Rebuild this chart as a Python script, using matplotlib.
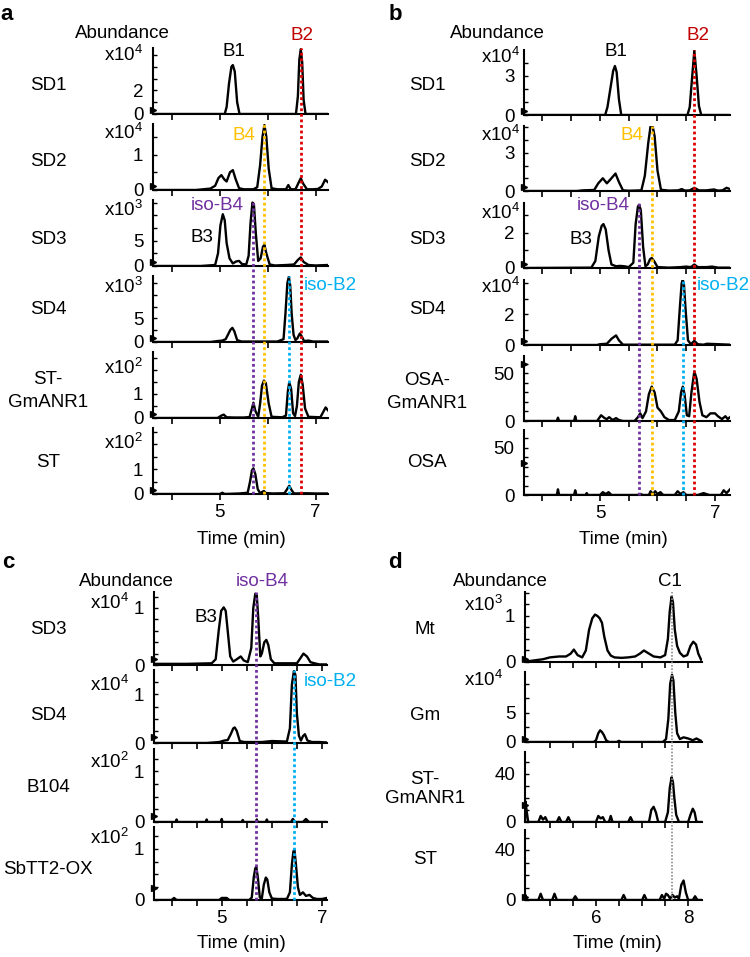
import matplotlib
matplotlib.use("Agg")
import matplotlib.pyplot as plt
from matplotlib.lines import Line2D
from matplotlib import transforms

plt.rcParams['font.family'] = ['Liberation Sans', 'DejaVu Sans']
plt.rcParams['mathtext.fontset'] = 'custom'
plt.rcParams['mathtext.rm'] = 'Liberation Sans'
plt.rcParams['mathtext.it'] = 'Liberation Sans:italic'

# =========================================================
# DATA  (time in min, abundance in the row's own units)
# =========================================================

# ---- panel a ----
A_SD1_T = [3.60, 5.10, 5.14, 5.19, 5.24, 5.27, 5.31, 5.36, 5.41, 6.59, 6.63, 6.66, 6.69, 6.72, 6.75, 6.79, 7.26]
A_SD1_V = [0.00, 0.00, 0.60, 2.60, 4.00, 4.15, 3.60, 1.00, 0.00, 0.00, 1.50, 4.60, 5.50, 4.40, 1.20, 0.00, 0.00]

A_SD2_T = [3.60, 4.50, 4.80, 4.90, 4.97, 5.03, 5.09, 5.14, 5.21, 5.27, 5.33, 5.40, 5.50, 5.70, 5.78, 5.84, 5.89,
           5.93, 5.97, 6.02, 6.08, 6.20, 6.38, 6.43, 6.48, 6.58, 6.65, 6.69, 6.74, 6.82, 6.95, 7.05, 7.13, 7.20, 7.26]
A_SD2_V = [0.00, 0.00, 0.04, 0.12, 0.34, 0.42, 0.30, 0.24, 0.50, 0.56, 0.30, 0.05, 0.02, 0.02, 0.08, 0.70, 1.50,
           1.83, 1.50, 0.60, 0.05, 0.02, 0.02, 0.14, 0.02, 0.02, 0.22, 0.33, 0.18, 0.02, 0.02, 0.03, 0.10, 0.29, 0.22]

A_SD3_T = [3.60, 4.60, 4.90, 4.96, 5.01, 5.06, 5.10, 5.14, 5.20, 5.27, 5.34, 5.40, 5.46, 5.55, 5.60, 5.64, 5.68,
           5.71, 5.75, 5.80, 5.85, 5.90, 5.93, 5.97, 6.04, 6.15, 6.40, 6.55, 6.63, 6.69, 6.75, 6.85, 7.00, 7.26]
A_SD3_V = [0.0, 0.0, 0.2, 2.5, 8.0, 10.2, 9.0, 4.5, 1.5, 0.5, 0.9, 1.0, 0.4, 0.3, 2.0, 8.5, 12.5,
           12.2, 6.5, 1.0, 1.5, 3.8, 4.2, 2.5, 0.3, 0.1, 0.2, 0.3, 1.2, 1.7, 0.8, 0.2, 0.1, 0.2]

A_SD4_T = [3.60, 4.80, 4.95, 5.05, 5.12, 5.17, 5.22, 5.26, 5.30, 5.36, 5.45, 6.20, 6.33, 6.37, 6.41, 6.44,
           6.47, 6.50, 6.54, 6.58, 6.62, 6.67, 6.71, 6.76, 6.85, 6.95, 7.05, 7.26]
A_SD4_V = [0.0, 0.0, 0.2, 0.3, 0.6, 1.6, 2.6, 3.0, 2.3, 0.4, 0.1, 0.1, 0.6, 6.0, 12.5, 13.8,
           12.0, 6.0, 1.5, 0.4, 0.8, 1.8, 1.2, 0.2, 0.3, 0.1, 0.1, 0.1]

A_STG_T = [3.60, 4.95, 5.03, 5.08, 5.14, 5.30, 5.50, 5.62, 5.67, 5.70, 5.74, 5.80, 5.84, 5.88, 5.92, 5.96, 6.02,
           6.08, 6.30, 6.38, 6.42, 6.45, 6.49, 6.53, 6.57, 6.61, 6.65, 6.69, 6.73, 6.78, 6.85, 7.10, 7.16, 7.21, 7.26]
A_STG_V = [0.0, 0.0, 0.10, 0.14, 0.03, 0.02, 0.02, 0.04, 0.40, 0.64, 0.30, 0.05, 0.60, 1.35, 1.56, 1.45, 0.60,
           0.05, 0.03, 0.10, 1.10, 1.50, 1.20, 0.20, 0.08, 0.50, 1.50, 1.80, 1.40, 0.40, 0.05, 0.03, 0.25, 0.44, 0.32]

A_ST_T = [3.60, 5.00, 5.05, 5.10, 5.40, 5.58, 5.63, 5.67, 5.70, 5.74, 5.79, 5.84, 5.88, 5.92, 5.96, 6.10,
          6.35, 6.40, 6.45, 6.50, 6.55, 6.80, 7.00, 7.26]
A_ST_V = [0.0, 0.0, 0.05, 0.0, 0.02, 0.05, 0.50, 0.95, 1.03, 0.80, 0.20, 0.03, 0.08, 0.12, 0.04, 0.02,
          0.03, 0.18, 0.33, 0.15, 0.02, 0.03, 0.02, 0.02]

# ---- panel b ----
B_SD1_T = [3.68, 5.09, 5.13, 5.18, 5.23, 5.26, 5.29, 5.33, 5.37, 6.52, 6.56, 6.60, 6.64, 6.68, 6.72, 6.76, 7.26]
B_SD1_V = [0, 0, 0.6, 2.0, 3.4, 3.77, 3.3, 1.2, 0, 0, 0.6, 2.8, 4.95, 3.0, 0.7, 0, 0]

B_SD2_T = [3.68, 4.60, 4.70, 4.90, 4.97, 5.05, 5.12, 5.18, 5.27, 5.33, 5.40, 5.50, 5.72, 5.78, 5.84, 5.88, 5.91,
           5.95, 6.00, 6.06, 6.20, 6.36, 6.42, 6.48, 6.56, 6.64, 6.72, 6.85, 6.98, 7.05, 7.13, 7.20, 7.26]
B_SD2_V = [0, 0, 0.05, 0.08, 0.60, 1.00, 0.60, 0.90, 1.37, 0.70, 0.05, 0.02, 0.05, 1.20, 3.80, 5.10, 5.20,
           4.30, 1.60, 0.10, 0.03, 0.05, 0.15, 0.03, 0.05, 0.25, 0.05, 0.05, 0.12, 0.03, 0.05, 0.25, 0.15]

B_SD3_T = [3.68, 4.85, 4.92, 4.98, 5.03, 5.06, 5.10, 5.15, 5.20, 5.28, 5.35, 5.42, 5.50, 5.58, 5.62, 5.66, 5.68,
           5.71, 5.75, 5.79, 5.83, 5.87, 5.90, 5.94, 6.00, 6.20, 6.40, 6.50, 6.58, 6.64, 6.70, 6.85, 6.95, 7.05, 7.26]
B_SD3_V = [0, 0.02, 0.4, 1.8, 2.4, 2.5, 2.2, 1.0, 0.2, 0.1, 0.12, 0.10, 0.05, 0.3, 2.5, 3.5, 3.6,
           3.3, 1.2, 0.1, 0.2, 0.5, 0.57, 0.4, 0.05, 0.02, 0.05, 0.08, 0.05, 0.20, 0.05, 0.05, 0.08, 0.02, 0.02]

B_SD4_T = [3.68, 4.95, 5.00, 5.12, 5.20, 5.28, 5.33, 5.40, 6.30, 6.35, 6.39, 6.42, 6.44, 6.46, 6.49, 6.53,
           6.58, 6.64, 6.70, 6.80, 6.86, 7.26]
B_SD4_V = [0, 0, 0.05, 0.08, 0.40, 0.62, 0.30, 0.02, 0.02, 0.30, 2.50, 4.00, 4.20, 3.90, 2.20, 0.30,
           0.05, 0.27, 0.05, 0.02, 0.08, 0.02]

B_OSAG_T = [3.68, 4.25, 4.27, 4.29, 4.50, 4.55, 4.57, 4.59, 4.95, 5.02, 5.08, 5.12, 5.16, 5.22, 5.28, 5.33,
            5.40, 5.60, 5.66, 5.70, 5.74, 5.80, 5.85, 5.90, 5.95, 6.00, 6.06, 6.12, 6.20, 6.30, 6.37, 6.41,
            6.44, 6.47, 6.51, 6.55, 6.59, 6.64, 6.68, 6.73, 6.78, 6.85, 6.92, 7.00, 7.05, 7.12, 7.18, 7.22, 7.26]
B_OSAG_V = [0, 0, 3.5, 0, 0, 0, 5, 0, 0, 6, 3, 2, 4, 1, 3, 1,
            0, 0, 4, 8, 3, 10, 28, 36, 30, 14, 10, 4, 1, 1, 10, 30,
            36, 28, 6, 5, 30, 52, 44, 20, 6, 4, 8, 8, 5, 2, 5, 2, 4]

B_OSA_T = [3.68, 4.25, 4.27, 4.29, 4.55, 4.57, 4.59, 4.75, 4.77, 4.79, 5.00, 5.05, 5.10, 5.15, 5.20, 5.65,
           5.70, 5.75, 5.85, 5.88, 5.92, 5.96, 6.00, 6.05, 6.10, 6.30, 6.35, 6.40, 6.45, 6.50, 6.70, 6.80,
           6.90, 7.10, 7.15, 7.20, 7.26]
B_OSA_V = [0, 0, 6, 0, 0, 5, 0, 0, 2, 0, 0, 3, 1, 3, 0, 0,
           1, 0, 0, 4, 1, 4, 1, 3, 0, 0, 4, 1, 3, 0, 0, 2,
           0, 0, 5, 2, 6]

# ---- panel c ----
C_SD3_T = [3.65, 4.30, 4.80, 4.88, 4.94, 4.99, 5.04, 5.08, 5.12, 5.17, 5.23, 5.30, 5.38, 5.44, 5.52, 5.59,
           5.63, 5.67, 5.70, 5.73, 5.77, 5.80, 5.85, 5.89, 5.93, 5.98, 6.05, 6.20, 6.40, 6.50, 6.57, 6.63,
           6.70, 6.77, 6.85, 6.95, 7.10]
C_SD3_V = [0.02, 0.02, 0.03, 0.10, 0.60, 0.95, 1.01, 0.95, 0.60, 0.15, 0.06, 0.10, 0.15, 0.08, 0.05, 0.30,
           1.00, 1.25, 1.22, 0.80, 0.15, 0.20, 0.40, 0.44, 0.35, 0.10, 0.03, 0.03, 0.03, 0.03, 0.12, 0.20,
           0.15, 0.05, 0.03, 0.01, 0.01]

C_SD4_T = [3.65, 4.70, 4.95, 5.05, 5.12, 5.18, 5.23, 5.26, 5.30, 5.36, 5.45, 5.80, 6.00, 6.30, 6.36, 6.40,
           6.44, 6.47, 6.50, 6.54, 6.58, 6.62, 6.66, 6.71, 6.80, 6.95, 7.10]
C_SD4_V = [0, 0, 0.02, 0.05, 0.06, 0.18, 0.30, 0.32, 0.25, 0.04, 0.02, 0.02, 0.04, 0.03, 0.30, 1.20,
           1.48, 1.40, 0.60, 0.15, 0.05, 0.14, 0.18, 0.05, 0.02, 0.02, 0.01]

C_B104_T = [3.65, 4.08, 4.10, 4.12, 4.68, 4.70, 4.72, 4.98, 5.00, 5.02, 5.40, 5.42, 5.44, 5.68, 5.70, 5.72,
            5.88, 5.90, 5.92, 6.38, 6.42, 6.46, 6.62, 6.68, 6.74, 7.10]
C_B104_V = [0, 0, 0.05, 0, 0, 0.05, 0, 0, 0.06, 0, 0, 0.04, 0, 0, 0.05, 0,
            0, 0.05, 0, 0, 0.06, 0, 0, 0.06, 0, 0]

C_OX_T = [3.65, 4.00, 4.05, 4.10, 4.95, 5.00, 5.10, 5.15, 5.55, 5.60, 5.64, 5.67, 5.69, 5.72, 5.76, 5.80,
          5.84, 5.88, 5.91, 5.95, 6.00, 6.10, 6.30, 6.36, 6.40, 6.43, 6.45, 6.48, 6.52, 6.56, 6.62, 6.68,
          6.75, 6.82, 6.90, 7.00, 7.10]
C_OX_V = [0, 0, 0.04, 0, 0, 0.04, 0.04, 0, 0.0, 0.05, 0.45, 0.62, 0.65, 0.45, 0.05, 0.03,
          0.30, 0.44, 0.40, 0.15, 0.03, 0.02, 0.02, 0.15, 0.70, 0.95, 0.99, 0.70, 0.25, 0.10, 0.15, 0.08,
          0.10, 0.04, 0.02, 0.02, 0.04]

# ---- panel d ----
D_MT_T = [4.46, 4.55, 4.70, 4.85, 5.00, 5.20, 5.35, 5.45, 5.52, 5.60, 5.70, 5.78, 5.85, 5.92, 5.98, 6.03,
          6.08, 6.13, 6.18, 6.25, 6.32, 6.40, 6.55, 6.70, 6.85, 6.95, 7.04, 7.12, 7.25, 7.40, 7.50, 7.56,
          7.60, 7.64, 7.67, 7.71, 7.76, 7.82, 7.90, 7.98, 8.05, 8.11, 8.17, 8.22, 8.28]
D_MT_V = [0.02, 0.02, 0.04, 0.06, 0.10, 0.12, 0.12, 0.18, 0.27, 0.15, 0.10, 0.25, 0.70, 0.95, 1.03, 1.00,
          0.95, 0.85, 0.55, 0.25, 0.14, 0.10, 0.09, 0.10, 0.12, 0.18, 0.25, 0.20, 0.12, 0.10, 0.15, 0.50,
          1.10, 1.42, 1.30, 0.70, 0.35, 0.20, 0.12, 0.15, 0.35, 0.44, 0.38, 0.18, 0.05]

D_GM_T = [4.46, 5.95, 6.00, 6.05, 6.09, 6.13, 6.17, 6.22, 6.28, 6.45, 6.50, 6.55, 7.45, 7.52, 7.57, 7.61,
          7.65, 7.68, 7.72, 7.76, 7.82, 7.90, 8.00, 8.10, 8.18, 8.25, 8.28]
D_GM_V = [0, 0, 0.3, 1.5, 2.0, 1.7, 1.2, 0.3, 0, 0, 0.2, 0, 0, 0.5, 4.0, 10.0,
          11.5, 10.5, 5.0, 1.5, 0.5, 0.8, 0.6, 0.3, 0.6, 0.3, 0.2]

D_STG_T = [4.46, 4.47, 4.50, 4.53, 4.75, 4.80, 4.85, 4.90, 4.95, 5.15, 5.20, 5.25, 5.35, 5.40, 5.45, 6.00,
           6.05, 6.10, 6.15, 6.20, 6.28, 6.32, 6.36, 6.70, 6.75, 6.80, 7.15, 7.20, 7.25, 7.30, 7.35, 7.50,
           7.56, 7.60, 7.64, 7.67, 7.70, 7.74, 7.80, 8.00, 8.05, 8.10, 8.14, 8.18, 8.28]
D_STG_V = [0, 17, 8, 0, 0, 5, 2, 4, 0, 0, 4, 0, 0, 4, 0, 0,
           5, 3, 4, 0, 0, 5, 0, 0, 4, 0, 0, 10, 12.6, 8, 0, 0,
           8, 28, 37, 33, 20, 6, 0, 0, 6, 11, 8, 0, 0]

D_ST_T = [4.46, 4.47, 4.50, 4.75, 4.80, 4.85, 5.05, 5.10, 5.15, 5.50, 5.55, 5.60, 6.55, 6.60, 6.65, 7.00,
          7.05, 7.10, 7.38, 7.43, 7.48, 7.52, 7.56, 7.61, 7.66, 7.71, 7.76, 7.80, 7.85, 7.90, 7.95, 8.00,
          8.10, 8.15, 8.20, 8.28]
D_ST_V = [0, 4, 0, 0, 5, 0, 0, 5, 0, 0, 3, 0, 0, 4, 0, 0,
          4, 0, 0, 4, 1, 5, 4, 1, 4, 2, 3, 1, 12, 15.6, 6, 0,
          0, 3, 0, 0]

# peak retention times marked with dotted lines
A_MARKS = [6.69, 5.93, 5.70, 6.45]
B_MARKS = [6.64, 5.90, 5.68, 6.44]
C_MARKS = [5.69, 6.45]
D_MARKS = [7.65]

RED = '#dd0000'
GOLD = '#ffc000'
PURPLE = '#7030a0'
CYAN = '#00b0f0'

W, H = 750, 957
FS = 13.5

fig = plt.figure(figsize=(7.5, 9.57), dpi=100)


def fx(x):
    return x / W


def fy(y):
    return 1 - y / H


def mult_text(p):
    return "x10$^{\\mathregular{%s}}$" % p


# =========================================================
# ONE PANEL OF STACKED CHROMATOGRAMS
# =========================================================

def draw_panel(rows, left, right, bases, height, xlim, xticks, xlabels,
               name_x, mult_x, linespacing):

    axes = []

    for i, row in enumerate(rows):
        t, v, top, yt, ylab, mult, mult_y, name, name_y, tri = row

        ax = fig.add_axes([fx(left), fy(bases[i]), (right - left) / W, height / H])
        ax.patch.set_alpha(0)

        ax.plot(t, v, color='black', lw=1.7, solid_joinstyle='round')

        ax.set_xlim(*xlim)
        ax.set_ylim(0, top)

        for s in ['top', 'right']:
            ax.spines[s].set_visible(False)
        for s in ['left', 'bottom']:
            ax.spines[s].set_linewidth(1.5)

        ax.set_yticks(yt)
        ax.set_yticklabels(ylab, fontsize=FS)
        ax.tick_params(axis='y', direction='in', length=3, width=1, pad=7)

        ax.set_xticks(xticks)
        ax.tick_params(axis='x', direction='out', length=4, width=1.2, pad=3)
        if i == len(rows) - 1:
            ax.set_xticklabels(xlabels, fontsize=FS)
        else:
            ax.tick_params(axis='x', labelbottom=False)

        # small instrument arrow on the left spine
        tr = transforms.blended_transform_factory(ax.transAxes, ax.transAxes)
        ax.plot([0.0], [tri], marker='>', ms=4, color='black',
                transform=tr, clip_on=False)

        if mult is not None:
            fig.text(fx(mult_x), fy(mult_y), mult_text(mult), fontsize=FS,
                     ha='right', va='center')

        fig.text(fx(name_x), fy(name_y), name, fontsize=FS, ha='center',
                 va='center', linespacing=linespacing)

        axes.append(ax)

    return axes


def mark_line(axes, bases, height, t, start_row, color, lw=2.0):
    ax = axes[-1]
    tr = transforms.blended_transform_factory(ax.transData, fig.transFigure)
    y0 = fy(bases[-1])
    y1 = fy(bases[start_row] - height)
    line = Line2D([t, t], [y0, y1], transform=tr, color=color, lw=lw,
                  linestyle=(0, (1, 1)), zorder=5)
    fig.lines.append(line)


# =========================================================
# PANEL A
# =========================================================

a_bases = [114, 190, 266, 342, 418, 494]
a_rows = [
    (A_SD1_T, A_SD1_V, 5.6, [0, 1, 2, 3, 4, 5], ['0', '', '2', '', '', ''], '4', 55, 'SD1', 85, 0.06),
    (A_SD2_T, A_SD2_V, 1.86, [0, 0.5, 1, 1.5], ['0', '', '1', ''], '4', 133, 'SD2', 162, 0.06),
    (A_SD3_T, A_SD3_V, 13.0, [0, 2.5, 5, 7.5, 10, 12.5], ['0', '', '5', '', '', ''], '3', 210, 'SD3', 240, 0.06),
    (A_SD4_T, A_SD4_V, 14.0, [0, 2.5, 5, 7.5, 10, 12.5], ['0', '', '5', '', '', ''], '3', 287, 'SD4', 310, 0.06),
    (A_STG_T, A_STG_V, 2.75, [0, 0.5, 1, 1.5, 2, 2.5], ['0', '', '1', '', '', ''], '2', 368, 'ST-\nGmANR1', 391, 0.06),
    (A_ST_T, A_ST_V, 2.65, [0, 0.5, 1, 1.5, 2, 2.5], ['0', '', '1', '', '', ''], '2', 443, 'ST', 462, 0.06),
]
a_axes = draw_panel(a_rows, 153, 328, a_bases, 66, (3.60, 7.26), [4, 5, 6, 7],
                    ['', '5', '', '7'], 48, 143, 1.5)

for t, start, c in zip(A_MARKS, [0, 1, 2, 3], [RED, GOLD, PURPLE, CYAN]):
    mark_line(a_axes, a_bases, 66, t, start, c)

# =========================================================
# PANEL B
# =========================================================

b_bases = [115, 191, 268, 345, 421, 495]
b_rows = [
    (B_SD1_T, B_SD1_V, 5.0, [0, 1, 2, 3, 4], ['0', '', '', '3', ''], '4', 57, 'SD1', 85, 0.06),
    (B_SD2_T, B_SD2_V, 5.1, [0, 1, 2, 3, 4, 5], ['0', '', '', '3', '', ''], '4', 135, 'SD2', 162, 0.06),
    (B_SD3_T, B_SD3_V, 3.7, [0, 1, 2, 3], ['0', '', '2', ''], '4', 213, 'SD3', 240, 0.06),
    (B_SD4_T, B_SD4_V, 4.2, [0, 1, 2, 3, 4], ['0', '', '2', '', ''], '4', 287, 'SD4', 309, 0.06),
    (B_OSAG_T, B_OSAG_V, 68, [0, 10, 20, 30, 40, 50, 60], ['0', '', '', '', '', '50', ''], None, 0, 'OSA-\nGmANR1', 392, 0.88),
    (B_OSA_T, B_OSA_V, 69, [0, 10, 20, 30, 40, 50, 60], ['0', '', '', '', '', '50', ''], None, 0, 'OSA', 462, 0.5),
]
b_axes = draw_panel(b_rows, 524, 730, b_bases, 65, (3.68, 7.26),
                    [4, 4.5, 5, 5.5, 6, 6.5, 7], ['', '', '5', '', '', '', '7'], 427, 520, 1.5)

for t, start, c in zip(B_MARKS, [0, 1, 2, 3], [RED, GOLD, PURPLE, CYAN]):
    mark_line(b_axes, b_bases, 65, t, start, c)

# =========================================================
# PANEL C
# =========================================================

c_bases = [665, 743, 822, 900]
c_rows = [
    (C_SD3_T, C_SD3_V, 1.28, [0, 0.2, 0.4, 0.6, 0.8, 1.0, 1.2], ['0', '', '', '', '', '1', ''], '4', 603, 'SD3', 630, 0.08),
    (C_SD4_T, C_SD4_V, 1.5, [0, 0.25, 0.5, 0.75, 1.0, 1.25], ['0', '', '', '', '1', ''], '4', 685, 'SD4', 715, 0.08),
    (C_B104_T, C_B104_V, 1.44, [0, 0.25, 0.5, 0.75, 1.0, 1.25], ['0', '', '', '', '1', ''], '2', 762, 'B104', 787, 0.08),
    (C_OX_T, C_OX_V, 1.43, [0, 0.25, 0.5, 0.75, 1.0, 1.25], ['0', '', '', '', '1', ''], '2', 838, 'SbTT2-OX', 870, 0.16),
]
c_axes = draw_panel(c_rows, 154, 327, c_bases, 73, (3.65, 7.10),
                    [4, 4.5, 5, 5.5, 6, 6.5, 7], ['', '', '5', '', '', '', '7'], 48, 129, 1.5)

for t, start, c in zip(C_MARKS, [0, 1], [PURPLE, CYAN]):
    mark_line(c_axes, c_bases, 73, t, start, c)

# =========================================================
# PANEL D
# =========================================================

d_bases = [662, 742, 822, 900]
d_rows = [
    (D_MT_T, D_MT_V, 1.52, [0, 0.25, 0.5, 0.75, 1.0, 1.25, 1.5], ['0', '', '', '', '1', '', ''], '3', 605, 'Mt', 630, 0.05),
    (D_GM_T, D_GM_V, 12.0, [0, 2.5, 5, 7.5, 10], ['0', '', '5', '', ''], '4', 680, 'Gm', 715, 0.05),
    (D_STG_T, D_STG_V, 58, [0, 10, 20, 30, 40, 50], ['0', '', '', '', '40', ''], None, 0, 'ST-\nGmANR1', 789, 0.25),
    (D_ST_T, D_ST_V, 56, [0, 10, 20, 30, 40, 50], ['0', '', '', '', '40', ''], None, 0, 'ST', 860, 0.05),
]
d_axes = draw_panel(d_rows, 525, 702, d_bases, 70, (4.46, 8.30),
                    [5, 5.5, 6, 6.5, 7, 7.5, 8], ['', '', '6', '', '', '', '8'], 425, 503, 1.15)

for t in D_MARKS:
    mark_line(d_axes, d_bases, 70, t, 0, '#8c8c8c', lw=1.2)

# =========================================================
# TEXT LABELS
# =========================================================

for lab, x, y in [('a', 7, 15), ('b', 395, 15), ('c', 8, 563), ('d', 395, 563)]:
    fig.text(fx(x), fy(y), lab, fontsize=16, fontweight='bold', ha='center', va='center')

for x, y in [(122, 33), (497, 33), (126, 582), (500, 582)]:
    fig.text(fx(x), fy(y), 'Abundance', fontsize=FS, ha='center', va='center')

for x, y in [(241, 539), (623, 539), (241, 943), (617, 943)]:
    fig.text(fx(x), fy(y), 'Time (min)', fontsize=FS, ha='center', va='center')

peak_labels = [
    ('B1', 234, 52, 'black'), ('B2', 302, 35, '#c00000'), ('B4', 244, 135, GOLD),
    ('iso-B4', 217, 205, PURPLE), ('B3', 202, 238, 'black'), ('iso-B2', 330, 285, CYAN),
    ('B1', 616, 52, 'black'), ('B2', 698, 35, '#c00000'), ('B4', 632, 135, GOLD),
    ('iso-B4', 603, 205, PURPLE), ('B3', 581, 240, 'black'), ('iso-B2', 723, 285, CYAN),
    ('iso-B4', 262, 582, PURPLE), ('B3', 206, 617, 'black'), ('iso-B2', 330, 682, CYAN),
    ('C1', 670, 582, 'black'),
]
for txt, x, y, c in peak_labels:
    fig.text(fx(x), fy(y), txt, fontsize=FS, color=c, ha='center', va='center')

plt.savefig('out.png', dpi=100)
plt.close()
